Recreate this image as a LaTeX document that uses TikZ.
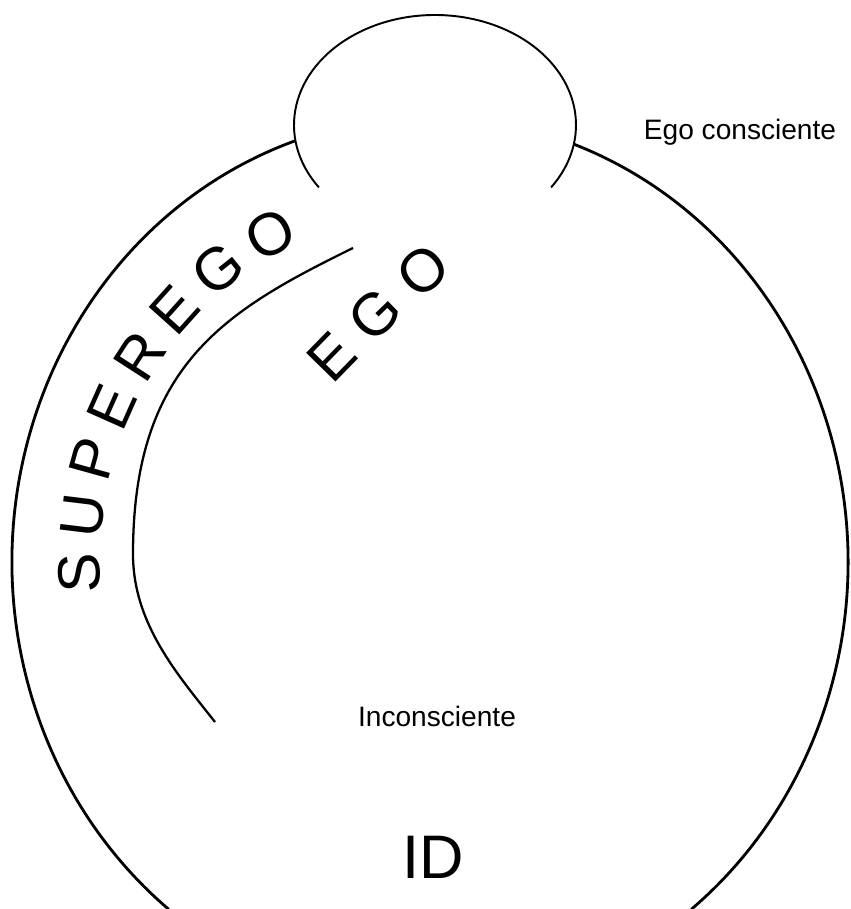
\documentclass[tikz,border=0pt]{standalone}
\usepackage{fontspec}
\setmainfont{Liberation Sans}
\usepackage{tikz}
\usetikzlibrary{decorations.text}
\newcommand{\arcletters}{\fontsize{34}{34}\selectfont}

\begin{document}
\begin{tikzpicture}[
    x=0.02cm, y=0.02cm,
    rim/.style={line width=1.6pt},
    bump/.style={line width=1.1pt},
    inner/.style={line width=1.3pt},
    smalltext/.style={font=\fontsize{16}{16}\selectfont, anchor=base},
    bigtext/.style={font=\fontsize{35}{35}\selectfont, anchor=base},
    bent/.style={decorate, decoration={text along path, text={|\arcletters|#1}, text align={fit to path}}}
]
\useasboundingbox (0,0) rectangle (851,909);

\draw[rim] ([shift={(108.8:418 and 445)}]430,347) arc[start angle=108.8, end angle=231.3, x radius=418, y radius=445];
\draw[rim] ([shift={(69.8:418 and 445)}]430,347) arc[start angle=69.8, end angle=-51.3, x radius=418, y radius=445];
\draw[bump] ([shift={(214.6:141 and 110)}]435,784) arc[start angle=214.6, end angle=-34.6, x radius=141, y radius=110];
\draw[inner] (353,661) .. controls (227,599) and (133,545) .. (133,355)
    .. controls (133,285) and (178,234) .. (215,187);

\path[bent=SUPEREGO] ([shift={(185:330 and 347)}]430,347) arc[start angle=185, end angle=113, x radius=330, y radius=347];
\path[bent=EGO] (333,523) .. controls (375,566) and (412,604) .. (454,637);

\node[smalltext] (egocons) at (740,769) {Ego consciente};
\node[smalltext] (incons) at (437,182) {Inconsciente};
\node[bigtext] (id) at (433,31) {ID};
\end{tikzpicture}
\end{document}
